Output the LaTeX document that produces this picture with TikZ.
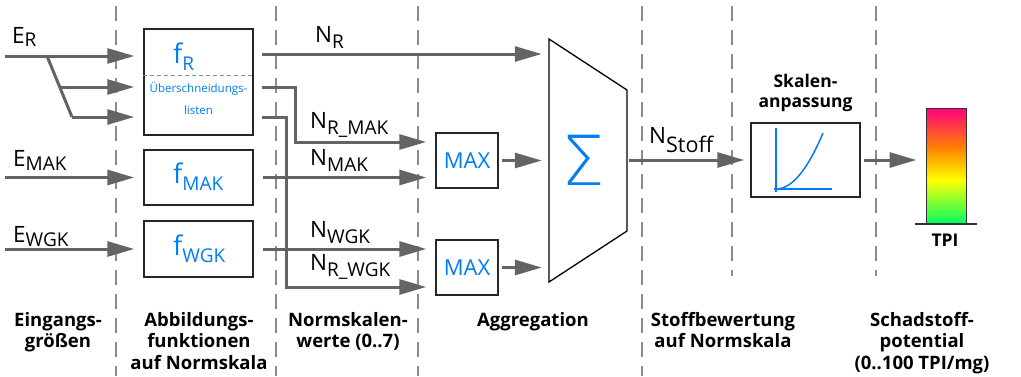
\documentclass[tikz,border=0pt]{standalone}
\usepackage{fontspec}
\setmainfont{Open Sans}
\newfontfamily\sigmafont{DejaVu Sans ExtraLight}
\usetikzlibrary{arrows.meta}

\definecolor{linegray}{RGB}{100,100,100}
\definecolor{dashgray}{RGB}{140,140,140}
\definecolor{fblue}{RGB}{0,125,245}
\definecolor{tgreen}{RGB}{0,255,100}
\definecolor{tyellow}{RGB}{255,255,0}
\definecolor{torange}{RGB}{255,128,0}
\definecolor{tpink}{RGB}{255,0,128}

% colour scale of the TPI bar (green at the bottom, pink at the top)
\pgfdeclareverticalshading{tpibar}{100bp}{color(0bp)=(tgreen); color(25bp)=(tgreen);
  color(44bp)=(tyellow); color(58bp)=(torange); color(75bp)=(tpink); color(100bp)=(tpink)}

% lowered subscript as used in the signal names
\newcommand\lowsub[2][6pt]{\raisebox{-#1}{\fontsize{19}{19}\selectfont #2}}

\begin{document}
\begin{tikzpicture}[x=1pt,y=-1pt,
  sep/.style={draw=dashgray, line width=2pt, dash pattern=on 15pt off 9pt},
  ln/.style={draw=linegray, line width=3pt},
  arr/.style={ln, -{Triangle[length=27pt,width=15pt]}, shorten >=9pt},
  box/.style={draw=black!85, line width=1.5pt, fill=white, inner sep=0pt},
  sig/.style={font=\fontsize{22.5}{22.5}\selectfont, inner sep=0pt, anchor=base west},
  fun/.style={text=fblue, font=\fontsize{27}{27}\selectfont, inner sep=0pt, anchor=base west},
  stage/.style={font=\bfseries\fontsize{18.5}{21.5}\selectfont, align=center, anchor=north, inner sep=0pt}]

\useasboundingbox (0,0) rectangle (1021,376);

% column separators
\draw[sep] (116,6) -- (116,376);
\draw[sep] (276,6) -- (276,376);
\draw[sep] (418,6) -- (418,376);
\draw[sep] (642,6) -- (642,376);
\draw[sep] (731.5,6) -- (731.5,276);
\draw[sep] (875.5,6) -- (875.5,276);

% mapping functions
\node[box, minimum width=109pt, minimum height=106pt] (fRbox) at (198.5,82) {};
\draw[dashgray, line width=1pt, dash pattern=on 4pt off 3pt] (fRbox.west |- 0,75) -- (fRbox.east |- 0,75);
\node[fun] (fR) at (173,63) {f\lowsub[7pt]{R}};
\node[text=fblue, font=\fontsize{11.5}{22}\selectfont, align=center, anchor=north, inner sep=0pt]
  (ovl) at (198.5,81.7) {\rule{0pt}{11pt}Überschneidungs-\\listen};
\node[box, minimum width=109pt, minimum height=55pt] (fMAKbox) at (198.5,177.5) {};
\node[fun] (fMAK) at (173,183) {f\lowsub[7pt]{MAK}};
\node[box, minimum width=109pt, minimum height=56pt] (fWGKbox) at (198.5,249) {};
\node[fun] (fWGK) at (173,255) {f\lowsub[7pt]{WGK}};

% maximum operators
\node[box, minimum width=62pt, minimum height=55pt, text=fblue, font=\fontsize{22}{22}\selectfont] (max1) at (467,160.5) {MAX};
\node[box, minimum width=62pt, minimum height=55pt, text=fblue, font=\fontsize{22}{22}\selectfont] (max2) at (467,267.5) {MAX};

% aggregation
\node[minimum width=78pt, minimum height=243pt, inner sep=0pt] (agg) at (588,160.5) {};
\draw[black, line width=1.3pt, line join=miter] (549,39) -- (627,90) -- (627,231) -- (549,282) -- cycle;
\node[text=fblue, font=\sigmafont\fontsize{69}{69}\selectfont, inner sep=0pt] (sum) at (583,160) {Σ};

% scale adaptation
\node[box, minimum width=109pt, minimum height=74pt] (scale) at (805.5,160) {};
\draw[fblue, line width=1.5pt] (776,128) -- (776,192);
\draw[fblue, line width=1.5pt] (774,189) -- (832,189);
\draw[fblue, line width=1.5pt] (776,189) .. controls (791.7,189) and (807.3,170.3) .. (823,133);
\node[font=\bfseries\fontsize{17.5}{20}\selectfont, align=center, anchor=north, inner sep=0pt]
  (skl) at (805.5,73) {\rule{0pt}{14pt}Skalen-\\anpassung};

% TPI bar
\node[shade, shading=tpibar, draw=black!80, line width=1pt, minimum width=40pt, minimum height=116pt, inner sep=0pt] (bar) at (946,166) {};
\draw[black!80, line width=1.5pt] (915,224) -- (977,224);
\node[font=\bfseries\fontsize{17.5}{17.5}\selectfont, inner sep=0pt, anchor=base] (tpi) at (945,246) {TPI};

% inputs
\coordinate (inR) at (5,56);
\coordinate (brA) at (47,56);
\coordinate (brM) at (59.7,87);
\coordinate (brB) at (72,117);
\coordinate (inMAK) at (5,177.5);
\coordinate (inWGK) at (5,249);
\node[sig] (eR) at (12,43) {E\lowsub[3pt]{R}};
\node[sig] (eMAK) at (13,166) {E\lowsub[4pt]{MAK}};
\node[sig] (eWGK) at (13,242) {E\lowsub[4pt]{WGK}};
\draw[arr] (inR) -- (inR -| fRbox.west);
\draw[ln] (brA) -- (brB);
\draw[arr] (brM) -- (brM -| fRbox.west);
\draw[arr] (brB) -- (brB -| fRbox.west);
\draw[arr] (inMAK) -- (fMAKbox.west);
\draw[arr] (inWGK) -- (fWGKbox.west);

% normalised values
\coordinate (oR) at (253,54);
\coordinate (oRM) at (253,87);
\coordinate (oRW) at (253,117);
\draw[arr, shorten <=9pt, shorten >=7pt] (oR) -- (oR -| agg.west);
\draw[arr, shorten <=9pt] (oRM) -- (295,87) |- ([yshift=18.5pt]max1.west);
\draw[arr, shorten <=9pt] (oRW) -- (286,117) |- ([yshift=-19.5pt]max2.west);
\draw[arr, shorten <=9pt] (fMAKbox.east) -- (max1.west |- fMAKbox.east);
\draw[arr, shorten <=9pt] (fWGKbox.east) -- (max2.west |- fWGKbox.east);
\node[sig] (nR) at (315,42) {N\lowsub{R}};
\node[sig] (nRMAK) at (310,128) {N\lowsub{R\_MAK}};
\node[sig] (nMAK) at (310,165.7) {N\lowsub{MAK}};
\node[sig] (nWGK) at (310,237) {N\lowsub{WGK}};
\node[sig] (nRWGK) at (310,270) {N\lowsub{R\_WGK}};

% aggregation and rating
\draw[arr, shorten <=3pt, shorten >=7pt] (max1.east) -- (agg.west |- max1.east);
\draw[arr, shorten <=3pt, shorten >=7pt] (max2.east) -- (agg.west |- max2.east);
\draw[arr, shorten <=2pt, shorten >=6pt] (agg.east |- scale.west) -- (scale.west);
\draw[arr, shorten <=3pt] (scale.east) -- (bar.west |- scale.east);
\node[sig] (nStoff) at (649,143) {N\raisebox{-9pt}{\fontsize{21.5}{21.5}\selectfont Stoff}};

% stage captions
\node[stage] (s1) at (58,311) {\rule{0pt}{15pt}Eingangs-\\größen};
\node[stage] (s2) at (199,311) {\rule{0pt}{15pt}Abbildungs-\\funktionen\\auf Normskala};
\node[stage] (s3) at (348,311) {\rule{0pt}{15pt}Normskalen-\\werte (0..7)};
\node[stage] (s4) at (533,311) {\rule{0pt}{15pt}Aggregation};
\node[stage] (s5) at (723,311) {\rule{0pt}{15pt}Stoffbewertung\\auf Normskala};
\node[stage] (s6) at (922,311) {\rule{0pt}{15pt}Schadstoff-\\potential\\(0..100 TPI/mg)};
\end{tikzpicture}
\end{document}
